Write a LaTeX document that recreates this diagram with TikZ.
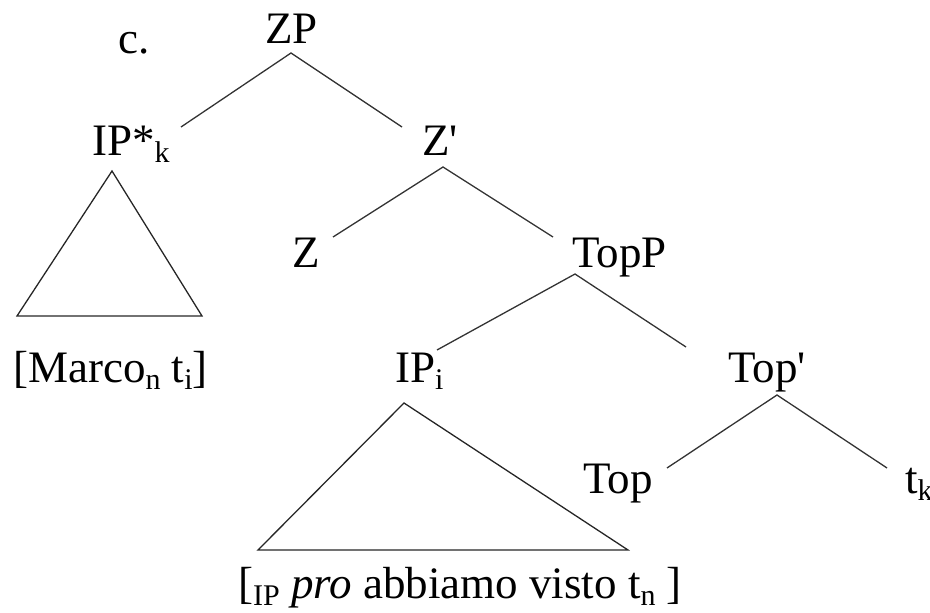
\documentclass[tikz,border=0pt]{standalone}
\usepackage{fontspec}
\setmainfont{Liberation Serif}
\newcommand{\mysub}[1]{\raisebox{-0.16em}{\fontsize{30}{30}\selectfont #1}}
\begin{document}
\begin{tikzpicture}[x=1pt,y=-1pt,
  lab/.style={anchor=base west,inner sep=0pt,font=\fontsize{45}{54}\selectfont},
  branch/.style={line width=1.3pt,draw=black!80},
  tri/.style={line width=1.3pt,draw=black!85,line join=miter}]
\useasboundingbox (0,0) rectangle (930,613);
% labels
\node[lab] (c) at (118,53) {c.};
\node[lab] (zp) at (265,43) {ZP};
\node[lab] (ipk) at (92,155) {IP*\mysub{k}};
\node[lab] (zbar) at (422,155) {Z\textquotesingle};
\node[lab] (z) at (292,267) {Z};
\node[lab] (topp) at (572,267) {TopP};
\node[lab] (marco) at (13,382) {[Marco\mysub{n} t\mysub{i}]};
\node[lab] (ipi) at (395,382) {IP\mysub{i}};
\node[lab] (topbar) at (728,382) {Top\textquotesingle};
\node[lab] (top) at (583,493) {Top};
\node[lab] (tk) at (905,493) {t\mysub{k}};
\node[lab] (bottom) at (238,598) {[\mysub{IP} \textit{pro} abbiamo visto t\mysub{n} ]};
% connector end points
\coordinate (zp-b) at (291,53);
\coordinate (ipk-t) at (181,127);
\coordinate (zbar-t) at (402,127);
\coordinate (zbar-b) at (443,167);
\coordinate (z-t) at (333,237);
\coordinate (topp-t) at (553,237);
\coordinate (topp-b) at (575,274);
\coordinate (ipi-t) at (437,350);
\coordinate (topbar-t) at (686,347);
\coordinate (topbar-b) at (777,395);
\coordinate (top-t) at (667,468);
\coordinate (tk-t) at (887,468);
% triangles
\coordinate (t1a) at (112,171);
\coordinate (t1l) at (17,316);
\coordinate (t1r) at (202,316);
\coordinate (t2a) at (404,403);
\coordinate (t2l) at (258,550);
\coordinate (t2r) at (628,550);
% branches
\draw[branch] (ipk-t) -- (zp-b) -- (zbar-t);
\draw[branch] (z-t) -- (zbar-b) -- (topp-t);
\draw[branch] (ipi-t) -- (topp-b) -- (topbar-t);
\draw[branch] (top-t) -- (topbar-b) -- (tk-t);
\draw[tri] (t1a) -- (t1l) -- (t1r) -- cycle;
\draw[tri] (t2a) -- (t2l) -- (t2r) -- cycle;
\end{tikzpicture}
\end{document}
